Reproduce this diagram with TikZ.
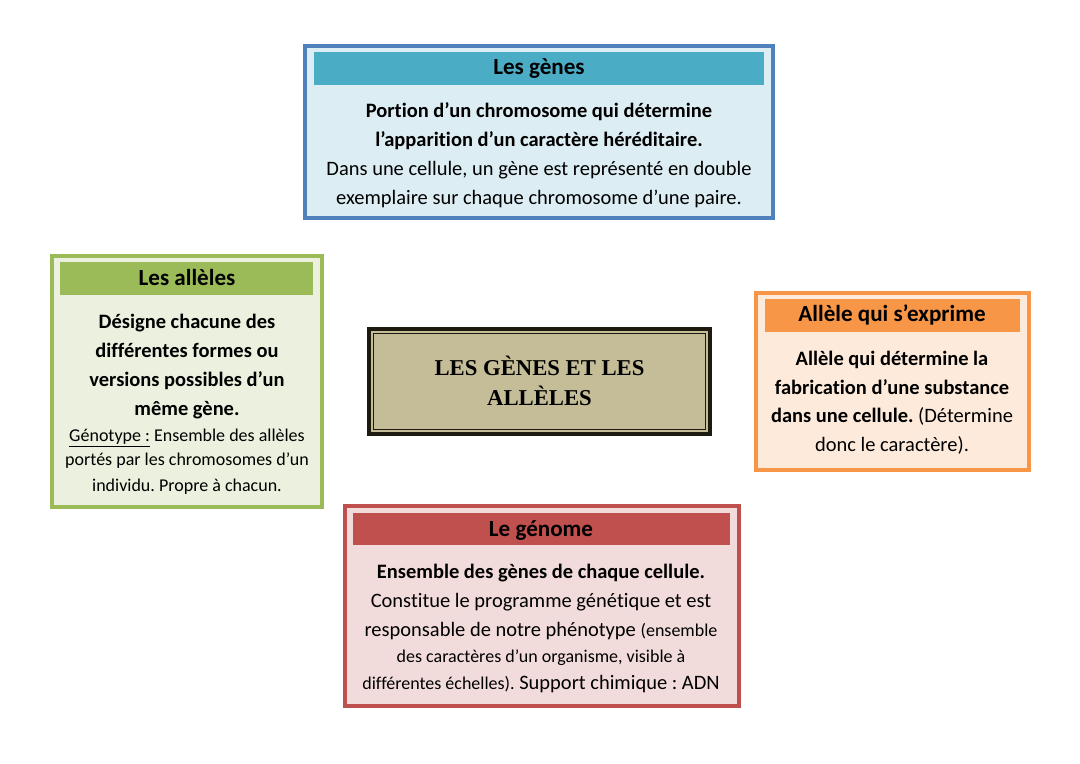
\documentclass[tikz,border=0pt]{standalone}
\usepackage{fontspec}
\setmainfont{Carlito}[Ligatures=NoCommon]
\newfontfamily\titlefont{Liberation Serif}
\newcommand{\bigtxt}{\fontsize{15.35}{21.7}\selectfont}
\newcommand{\smalltxt}{\fontsize{13.5}{19.2}\selectfont}
\definecolor{blueline}{HTML}{4F81BD}
\definecolor{bluehead}{HTML}{4BACC6}
\definecolor{bluefill}{HTML}{DCEDF3}
\definecolor{greenline}{HTML}{9BBB59}
\definecolor{greenfill}{HTML}{EBF1DE}
\definecolor{orangeline}{HTML}{F79646}
\definecolor{orangefill}{HTML}{FDEADA}
\definecolor{redline}{HTML}{C0504D}
\definecolor{redfill}{HTML}{F2DCDB}
\definecolor{khaki}{HTML}{C4BD97}
\definecolor{darkline}{HTML}{1D1B10}
\tikzset{
    x=0.75pt,y=-0.75pt,
    card/.style={draw,line width=2.3pt,inner sep=0pt},
    header/.style={inner sep=0pt,font=\bfseries\fontsize{17.3}{20}\selectfont,text=black},
    body/.style={align=center,inner sep=0pt,anchor=north,text=black,font=\bigtxt\frenchspacing},
}
\begin{document}
\begin{tikzpicture}
    \useasboundingbox (0,0) rectangle (1080,763);

    % Draw the blue card
    \draw[card,draw=blueline,fill=bluefill] (305,46) rectangle (773,218);
    \fill[bluehead] (314,52) rectangle (764,85);
    \node[header] (genes) at (539,68) {Les gènes};
    \node[body] (genestxt) at (539,102.5) {\textbf{Portion d’un chromosome qui détermine}\\
        \textbf{l’apparition d’un caractère héréditaire.}\\
        Dans une cellule, un gène est représenté en double\\
        exemplaire sur chaque chromosome d’une paire.};

    % Draw the green card
    \draw[card,draw=greenline,fill=greenfill] (52,256) rectangle (322,507);
    \fill[greenline] (60,262) rectangle (313,295);
    \node[header] (alleles) at (187,277) {Les allèles};
    \node[body] (allelestxt) at (187,314) {\textbf{Désigne chacune des}\\
        \textbf{différentes formes ou}\\
        \textbf{versions possibles d’un}\\
        \textbf{même gène.}\\[-2.5pt]
        {\smalltxt\underline{Génotype :} Ensemble des allèles}\\[-3.3pt]
        {\smalltxt portés par les chromosomes d’un}\\[-2.6pt]
        {\smalltxt individu. Propre à chacun.}};

    % Draw the orange card
    \draw[card,draw=orangeline,fill=orangefill] (756,293) rectangle (1029,470);
    \fill[orangeline] (765,299) rectangle (1020,332);
    \node[header] (expr) at (892,315) {Allèle qui s’exprime};
    \node[body] (exprtxt) at (892,350.5) {\textbf{Allèle qui détermine la}\\
        \textbf{fabrication d’une substance}\\
        \textbf{dans une cellule.} (Détermine\\
        donc le caractère).};

    % Draw the red card
    \draw[card,draw=redline,fill=redfill] (345,506) rectangle (739,706);
    \fill[redline] (353,513) rectangle (730,545);
    \node[header] (genome) at (541,530) {Le génome};
    \node[body] (genometxt) at (541,564) {\textbf{Ensemble des gènes de chaque cellule.}\\
        Constitue le programme génétique et est\\
        responsable de notre phénotype {\smalltxt(ensemble}\\[-2pt]
        {\smalltxt des caractères d’un organisme, visible à}\\[-1.5pt]
        {\smalltxt différentes échelles).} Support chimique : ADN};

    % Draw the centre box
    \draw[draw=darkline,line width=3.4pt,fill=khaki] (369,329) rectangle (710,434);
    \draw[draw=darkline,line width=0.9pt] (373.5,333.5) rectangle (705.5,429.5);
    \node[align=center,inner sep=0pt,text=black,font=\titlefont\bfseries\fontsize{17}{22}\selectfont] (title) at (539.5,381) {LES GÈNES ET LES\\ALLÈLES};
\end{tikzpicture}
\end{document}
